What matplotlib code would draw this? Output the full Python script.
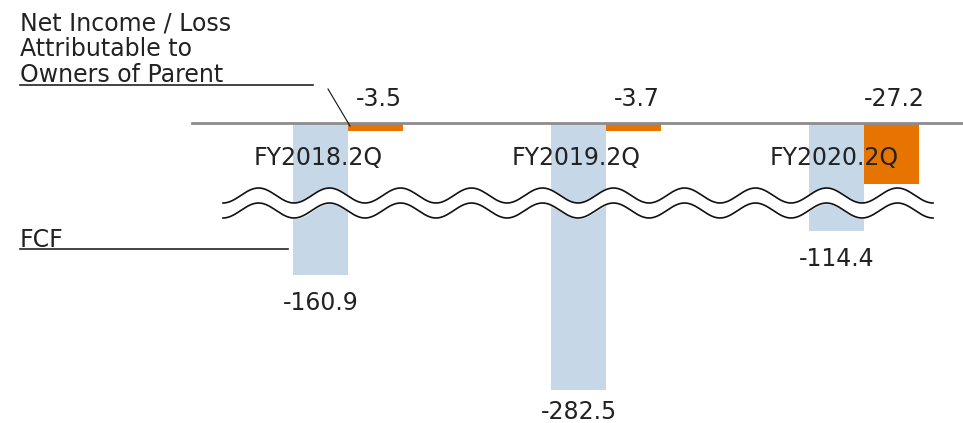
import numpy as np
import matplotlib
matplotlib.use('Agg')
import matplotlib.pyplot as plt
from matplotlib.transforms import Affine2D

# data (billion yen)
periods = ['FY2018.2Q', 'FY2019.2Q', 'FY2020.2Q']
fcf = [-160.9, -282.5, -114.4]
net_income = [-3.5, -3.7, -27.2]

W, H = 963, 423
blue = '#c6d8e8'
orange = '#e87400'
txt = '#222222'
fs = 17

fig = plt.figure(figsize=(W / 100, H / 100), dpi=100)
ax = fig.add_axes([0, 0, 1, 1])
ax2 = ax.twinx()

# pixel transform (x right, y down from top) for decorations
P = Affine2D().scale(1, -1).translate(0, H)

base = 123          # baseline position from top, px
px_fcf = 0.945      # px per unit for FCF
px_ni = 2.24        # px per unit for net income
ax.set_ylim(-(H - base) / px_fcf, base / px_fcf)
ax2.set_ylim(-(H - base) / px_ni, base / px_ni)
step = 258
ax.set_xlim(-348 / step, (W - 348) / step)
ax.axis('off')
ax2.axis('off')

x = np.arange(len(periods))
w = 55 / step
ax.bar(x - w / 2, fcf, w, color=blue, zorder=1)
ax2.bar(x + w / 2, net_income, w, color=orange, zorder=1)

ax2.axhline(0, xmin=192 / W, xmax=1, color='#8c8c8c', lw=2, zorder=3)

# break: white band between two waves
wx = np.linspace(223, 933, 600)
top = 195.5 + 7.5 * np.cos(2 * np.pi * (wx - 223) / 71)
bot = top + 15
ax2.fill_between(wx, top, bot, color='white', transform=P, zorder=4)
ax2.plot(wx, top, color='#111111', lw=1.2, transform=P, zorder=5)
ax2.plot(wx, bot, color='#111111', lw=1.2, transform=P, zorder=5)

# FCF labels below bar end, kept inside the figure
for xi, v in zip(x, fcf):
    end = base + abs(v) * px_fcf
    gap = min(end + 28, H - 11) - end
    ax2.annotate(f'{v:.1f}', (xi - w / 2, v), xycoords=ax.transData,
                 xytext=(0, -gap), textcoords='offset pixels',
                 ha='center', va='center', fontsize=fs, color=txt, zorder=6)

# net income labels above baseline
for xi, v in zip(x, net_income):
    ax2.annotate(f'{v:.1f}', (xi + w / 2, 0), xytext=(3, 24), textcoords='offset pixels',
                 ha='center', va='center', fontsize=fs, color=txt, zorder=6)

for xi, name in zip(x, periods):
    ax2.annotate(name, (xi - w / 2, 0), xytext=(-2, -35), textcoords='offset pixels',
                 ha='center', va='center', fontsize=fs, color=txt, zorder=6)

# leader line for small bar
ax2.plot([328, 350], [89, 126], color='#111111', lw=0.8, transform=P, zorder=6)

# series captions
for y, s in zip([30, 56, 82], ['Net Income / Loss', 'Attributable to', 'Owners of Parent']):
    ax2.text(20, y, s, transform=P, fontsize=fs, color=txt, va='baseline', ha='left')
ax2.plot([20, 313], [85, 85], color=txt, lw=1.2, transform=P)
ax2.text(20, 247, 'FCF', transform=P, fontsize=fs, color=txt, va='baseline', ha='left')
ax2.plot([20, 288], [249, 249], color=txt, lw=1.2, transform=P)

fig.savefig('out.png', dpi=100)
